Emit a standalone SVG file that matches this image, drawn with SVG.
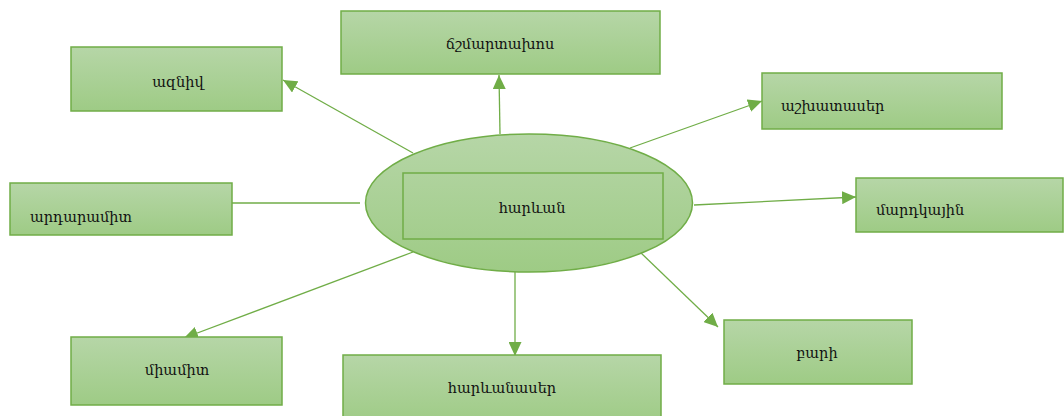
<svg xmlns="http://www.w3.org/2000/svg" width="1064" height="416" viewBox="0 0 1064 416">
<defs>
<linearGradient id="g" x1="0" y1="0" x2="0" y2="1">
<stop offset="0" stop-color="#b6d6a7"/>
<stop offset="1" stop-color="#9ecb85"/>
</linearGradient>
<marker id="arr" viewBox="0 0 14 13" refX="14" refY="6.5" markerWidth="14" markerHeight="13" markerUnits="userSpaceOnUse" orient="auto">
<path d="M0,0 L14,6.5 L0,13 z" fill="#70ad47"/>
</marker>
<style>
.box{fill:url(#g);stroke:#70ad47;stroke-width:1.5}
.lbl{font-family:"DejaVu Serif","Noto Sans",serif;font-size:14.5px;fill:#111111}
.c{text-anchor:middle}
.con line{stroke:#70ad47;stroke-width:1.3}
.con .a{marker-end:url(#arr)}
</style>
</defs>
<rect width="1064" height="416" fill="#ffffff"/>
<g id="connectors" class="con">
<line class="a" x1="500" y1="134" x2="499" y2="75"/>
<line class="a" x1="413" y1="153" x2="283" y2="80"/>
<line class="a" x1="630" y1="148" x2="762" y2="101"/>
<line class="a" x1="694" y1="205" x2="856" y2="197"/>
<line x1="360" y1="203" x2="232" y2="203"/>
<line class="a" x1="413" y1="252" x2="184" y2="338"/>
<line class="a" x1="515" y1="272" x2="515" y2="356"/>
<line class="a" x1="640" y1="252" x2="718" y2="327"/>
</g>
<g id="center">
<ellipse class="box" cx="529" cy="203" rx="163.5" ry="69"/>
<rect class="box" x="403" y="173" width="260" height="66" style="fill:none"/>
<text class="lbl c" x="532" y="213">հարևան</text>
</g>
<g id="n-chshmartakhos">
<rect class="box" x="341" y="11" width="319" height="63"/>
<text class="lbl c" x="500" y="49">ճշմարտախոս</text>
</g>
<g id="n-azniv">
<rect class="box" x="71" y="47" width="211" height="64"/>
<text class="lbl c" x="178" y="87">ազնիվ</text>
</g>
<g id="n-ardaramit">
<rect class="box" x="10" y="183" width="222" height="52"/>
<text class="lbl" x="30" y="222">արդարամիտ</text>
</g>
<g id="n-ashkhataser">
<rect class="box" x="762" y="73" width="240" height="56"/>
<text class="lbl" x="781" y="111">աշխատասեր</text>
</g>
<g id="n-mardkayin">
<rect class="box" x="856" y="178" width="207" height="54"/>
<text class="lbl" x="876" y="215">մարդկային</text>
</g>
<g id="n-miamit">
<rect class="box" x="71" y="337" width="211" height="68"/>
<text class="lbl c" x="177" y="375">միամիտ</text>
</g>
<g id="n-harevanaser">
<rect class="box" x="343" y="355" width="318" height="70"/>
<text class="lbl c" x="502" y="393">հարևանասեր</text>
</g>
<g id="n-bari">
<rect class="box" x="724" y="320" width="188" height="64"/>
<text class="lbl c" x="817" y="358">բարի</text>
</g>
</svg>
